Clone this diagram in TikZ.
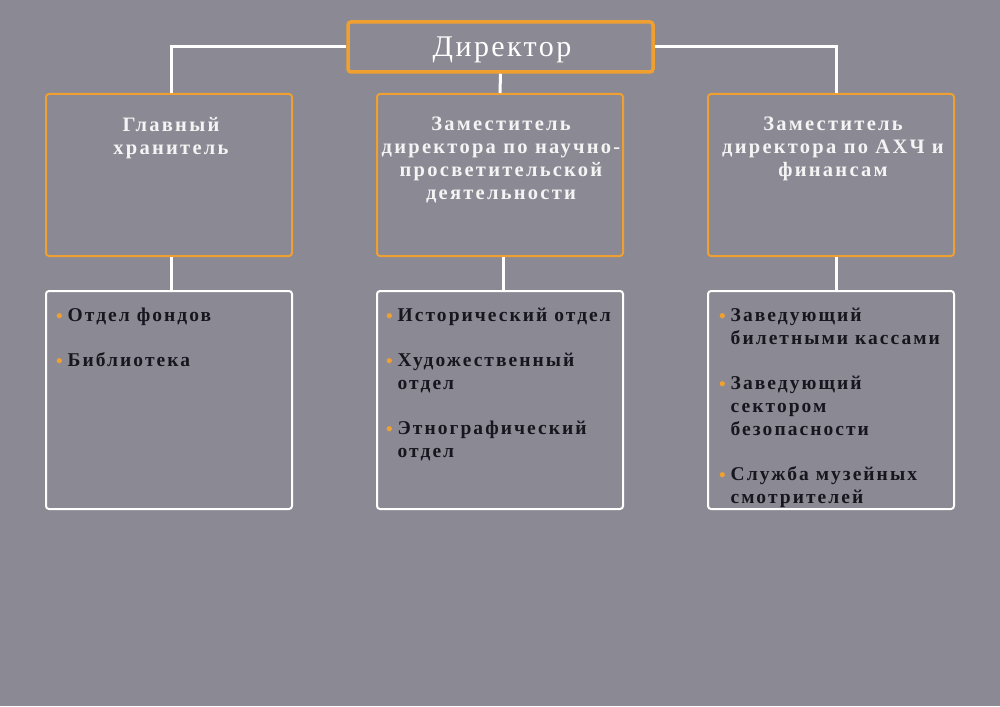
\documentclass[tikz,border=0pt]{standalone}
\usepackage{fontspec}
\setmainfont{Liberation Serif}
\definecolor{bg}{HTML}{8B8A94}
\definecolor{org}{HTML}{F0A030}
\definecolor{ink}{HTML}{17161E}
\definecolor{pale}{HTML}{F4F4F4}
\newcommand{\bul}{\makebox[11.5pt][l]{\raisebox{-0.5pt}{\textcolor{org}{\fontsize{19}{19}\selectfont\addfontfeatures{LetterSpace=0}•}}}}
\newcommand{\ind}{\hspace*{11.5pt}}
\tikzset{
  dirbox/.style={draw=org, line width=3.5pt, rounded corners=3pt, minimum width=305pt, minimum height=50pt, inner sep=0pt},
  midbox/.style={draw=org, line width=2pt, rounded corners=3pt, minimum width=246pt, minimum height=162pt, inner sep=0pt},
  lowbox/.style={draw=white, line width=2pt, rounded corners=3pt, minimum width=246pt, minimum height=218pt, inner sep=0pt},
  conn/.style={draw=white, line width=3pt},
  midtext/.style={anchor=north, inner sep=0pt, align=center, text=pale, font=\fontsize{20.5}{23}\selectfont\bfseries\addfontfeatures{LetterSpace=11}},
  lowtext/.style={anchor=north west, inner sep=0pt, align=left, text=ink, font=\fontsize{19.5}{23}\selectfont\bfseries\addfontfeatures{LetterSpace=10.5}},
}
\begin{document}
\begin{tikzpicture}[x=1pt,y=-1pt]
\fill[bg] (0,0) rectangle (1000,706);
\useasboundingbox (0,0) rectangle (1000,706);

\node[dirbox] (dir) at (500.5,47) {};
\node[text=white, font=\fontsize{30}{32}\selectfont\addfontfeatures{LetterSpace=8}] (dirt) at (502,50) {Директор};

\node[midbox] (ma) at (169,175) {};
\node[midbox] (mb) at (500,175) {};
\node[midbox] (mc) at (831,175) {};

\node[lowbox] (la) at (169,400) {};
\node[lowbox] (lb) at (500,400) {};
\node[lowbox] (lc) at (831,400) {};

\draw[conn] (dir.west) -| ([xshift=2pt]ma.north);
\draw[conn] (dir.east) -| ([xshift=5pt]mc.north);
\draw[conn] (dir.south) -- (mb.north);
\draw[conn] ([xshift=2pt]ma.south) -- ([xshift=2pt]la.north);
\draw[conn] ([xshift=3pt]mb.south) -- ([xshift=3pt]lb.north);
\draw[conn] ([xshift=5pt]mc.south) -- ([xshift=5pt]lc.north);

\node[midtext] (mat) at (171,117) {Главный\\хранитель};
\node[midtext] (mbt) at (501,117) {Заместитель\\директора по научно-\\просветительской\\деятельности};
\node[midtext] (mct) at (833,117) {Заместитель\\директора по АХЧ и\\финансам};

\node[lowtext] (lat) at (56,308) {\bul Отдел фондов\\[22pt]\bul Библиотека};
\node[lowtext] (lbt) at (386,308) {\bul Исторический отдел\\[22pt]\bul Художественный\\\ind отдел\\[22pt]\bul Этнографический\\\ind отдел};
\node[lowtext] (lct) at (719,308) {\bul Заведующий\\\ind билетными кассами\\[22pt]\bul Заведующий\\\ind сектором\\\ind безопасности\\[22pt]\bul Служба музейных\\\ind смотрителей};
\end{tikzpicture}
\end{document}
